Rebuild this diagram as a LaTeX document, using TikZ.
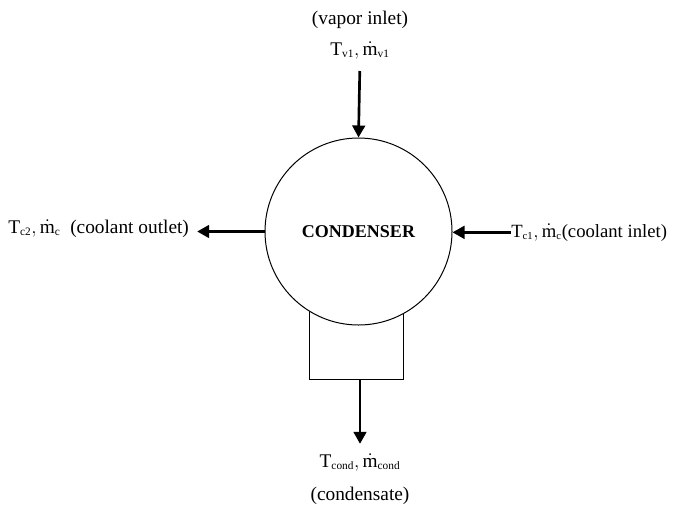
\documentclass[tikz,border=0pt]{standalone}
\usepackage{fontspec}
\setmainfont{Liberation Serif}
\DeclareMathSizes{14.5}{14.5}{8.5}{7}
\DeclareMathSizes{14}{14}{8}{6.5}
\usetikzlibrary{arrows.meta,positioning}
\tikzset{
	unitbox/.style={circle, draw, line width=0.75pt, fill=white, minimum size=140.25pt,
		inner sep=0pt, font=\fontsize{13.5}{16}\selectfont\bfseries},
	tankbox/.style={rectangle, draw, line width=0.75pt, minimum width=70.5pt,
		minimum height=59.25pt, inner sep=0pt},
	lbl/.style={inner sep=0pt, font=\fontsize{14.5}{17}\selectfont},
	flowarr/.style={-{Triangle[length=9pt, width=9.5pt]}, line width=2pt}
}
\begin{document}
\begin{tikzpicture}[x=0.75pt, y=-0.75pt]
	\useasboundingbox (0,0) rectangle (677,504);
	% condenser with condensate well
	\node[tankbox] (tank) at (356,339.5) {};
	\node[unitbox] (cond) at (358.5,231.5) {CONDENSER};
	% streams
	\node[lbl, anchor=base] (vtag) at (360,24) {(vapor inlet)};
	\node[lbl, anchor=base] (vin) at (360,55) {$\mathrm{T}_{\mathrm{v1}}, \dot{\mathrm{m}}_{\mathrm{v1}}$};
	\node[lbl, anchor=base west] (cout) at (8,233) {$\mathrm{T}_{\mathrm{c2}}, \dot{\mathrm{m}}_{\mathrm{c}}$\ \ (coolant outlet)};
	\node[lbl, anchor=base west, font=\fontsize{14}{17}\selectfont] (cin) at (511,237) {$\mathrm{T}_{\mathrm{c1}}, \dot{\mathrm{m}}_{\mathrm{c}}$(coolant inlet)};
	\node[lbl, anchor=base] (ccond) at (360,467) {$\mathrm{T}_{\mathrm{cond}}, \dot{\mathrm{m}}_{\mathrm{cond}}$};
	\node[lbl, anchor=base] (ctag) at (360,500) {(condensate)};
	\draw[flowarr, shorten <=9pt] (vin.south) -- (cond.north);
	\draw[flowarr, shorten >=6pt] (cond.west) -- (cond.west -| cout.east);
	\draw[flowarr] (cin.west) -- (cin.west -| cond.east);
	\draw[flowarr, shorten >=7pt] (ccond.north |- tank.south) -- (ccond.north);
\end{tikzpicture}
\end{document}
